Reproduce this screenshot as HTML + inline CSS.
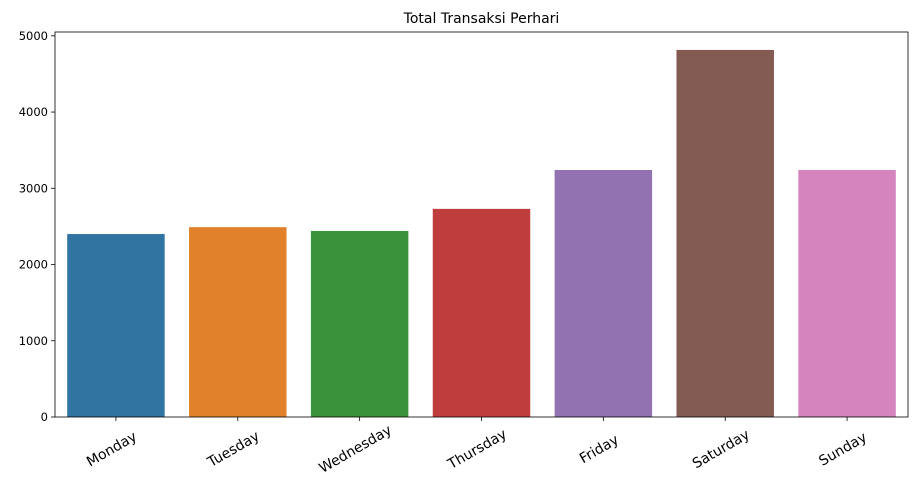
<!DOCTYPE html>
<html><head><meta charset="utf-8"><style>
body{margin:0;background:#fff;}
svg{display:block;font-family:"DejaVu Sans","Liberation Sans",sans-serif;}
</style></head><body>
<svg id="chart" width="917" height="500"></svg>
<script>
const categories=["Monday","Tuesday","Wednesday","Thursday","Friday","Saturday","Sunday"];
const values=[2400,2490,2440,2730,3240,4815,3240];
const colors=["#3274a1","#e1812c","#3a923a","#c03d3e","#9372b2","#845b53","#d684bd"];
const yTicks=[0,1000,2000,3000,4000,5000];
const NS="http://www.w3.org/2000/svg";
const svg=document.getElementById('chart');
const L=55,R=908,T=32,B=417,yMax=5050;
const y=v=>B-(v/yMax)*(B-T);
const step=(R-L)/categories.length;
const x=i=>L+step*i+step/2;
function mk(t,a,p){const e=document.createElementNS(NS,t);for(const k in a)e.setAttribute(k,a[k]);(p||svg).appendChild(e);return e;}
const title=mk('text',{x:(L+R)/2,y:23,'text-anchor':'middle','font-size':14,fill:'#000'});
title.textContent='Total Transaksi Perhari';


values.forEach((v,i)=>{
 const r=mk('rect',{x:x(i)-step*0.4,y:y(v),width:step*0.8,height:B-y(v),fill:colors[i]});
 
 
 mk('line',{x1:x(i),x2:x(i),y1:B,y2:B+4,stroke:'#000','stroke-width':0.8});
 const tx=x(i)-2,ty=B+36;
 const t=mk('text',{x:tx,y:ty,'text-anchor':'middle','font-size':14,fill:'#000',transform:`rotate(-30 ${tx} ${ty})`});
 t.textContent=categories[i];
 
 
});
yTicks.forEach(v=>{
 mk('line',{x1:L-4,x2:L,y1:y(v),y2:y(v),stroke:'#000','stroke-width':0.8});
 const t=mk('text',{x:L-7,y:y(v)+4,'text-anchor':'end','font-size':11.5,fill:'#000'});
 t.textContent=v;
 
 
});
const frame=mk('rect',{x:L,y:T,width:R-L,height:B-T,fill:'none',stroke:'#000','stroke-width':0.8});


</script>
</body></html>
